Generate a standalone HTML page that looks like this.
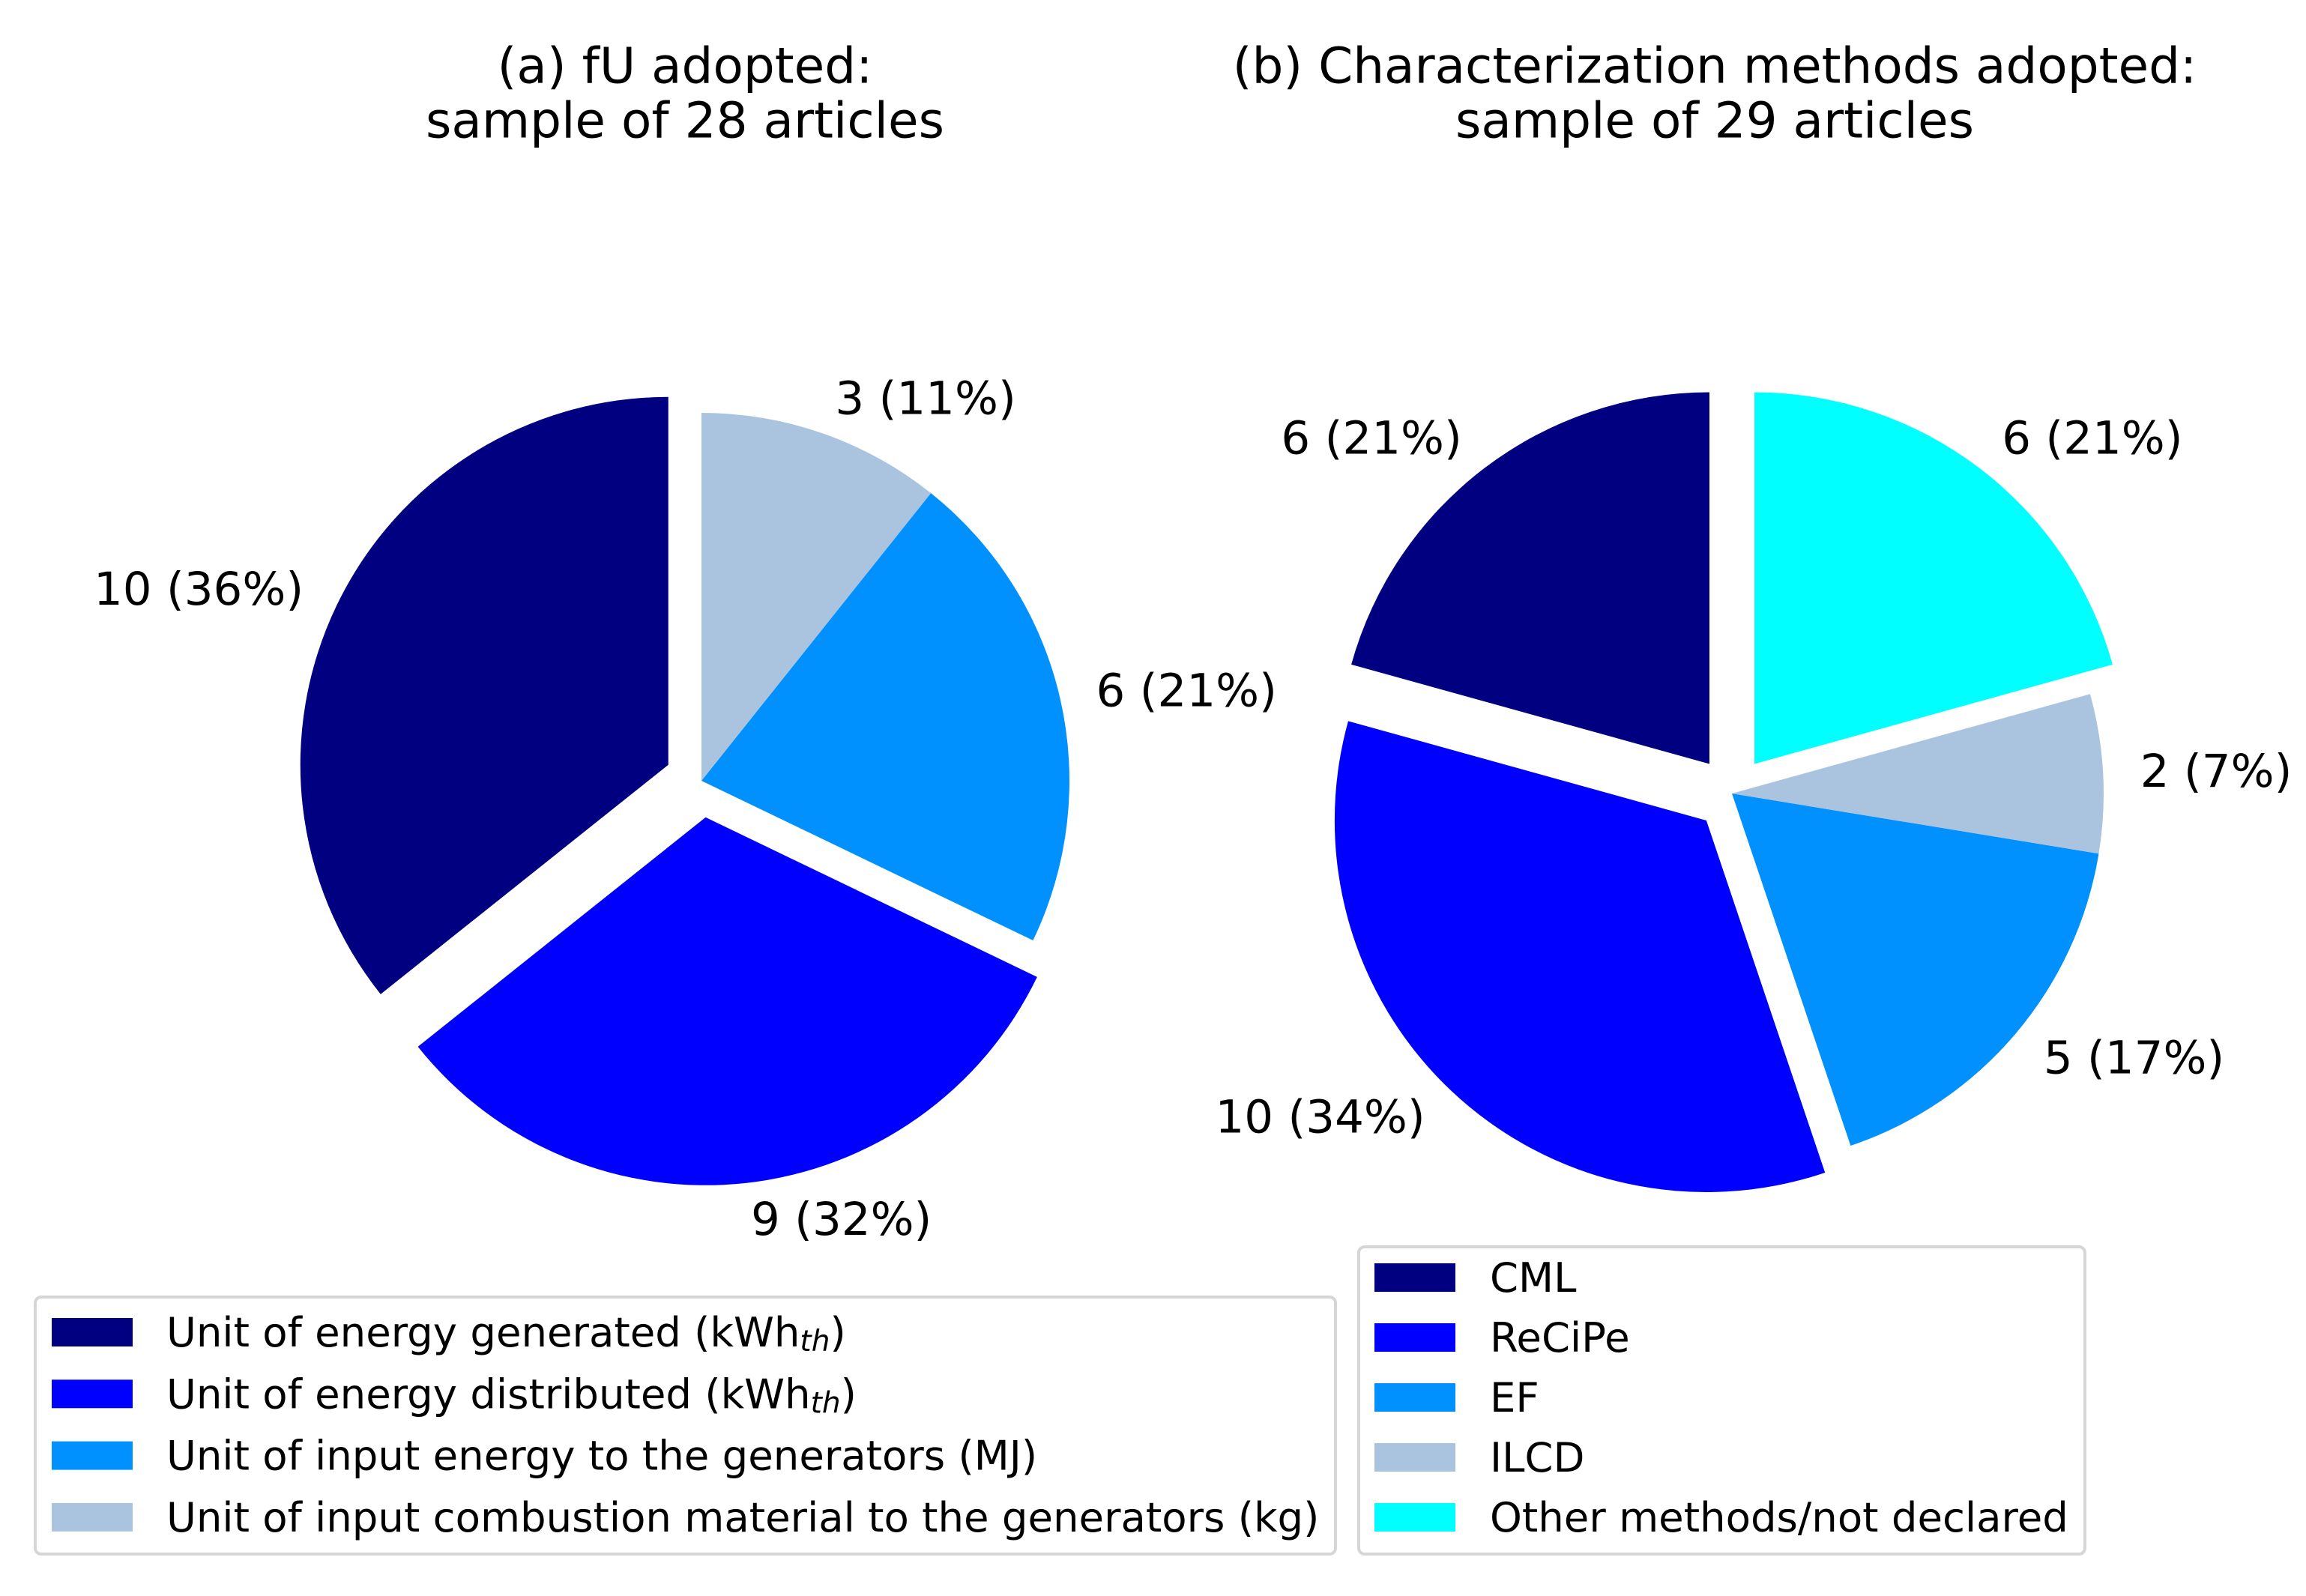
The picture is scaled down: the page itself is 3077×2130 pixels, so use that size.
<!DOCTYPE html>
<html><head><meta charset="utf-8"><style>
html,body{margin:0;padding:0;background:#fff;}
svg{display:block;font-family:"DejaVu Sans","Liberation Sans",sans-serif;}
</style></head><body>
<svg id="chart" width="3077" height="2130" viewBox="0 0 3077 2130" xmlns="http://www.w3.org/2000/svg">
<text x="914" y="88" font-size="66" text-anchor="middle" dominant-baseline="central">(a) fU adopted:</text>
<text x="914" y="161" font-size="66" text-anchor="middle" dominant-baseline="central">sample of 28 articles</text>
<text x="2288" y="88" font-size="66" text-anchor="middle" dominant-baseline="central">(b) Characterization methods adopted:</text>
<text x="2288" y="161" font-size="66" text-anchor="middle" dominant-baseline="central">sample of 29 articles</text>
<g id="pieA"></g>
<g id="pieB"></g>
<g id="legA">
<rect x="47" y="1731" width="1735" height="343" rx="8" fill="#fff" stroke="#d6d6d6" stroke-width="4"/>
</g>
<g id="legB">
<rect x="1813" y="1664" width="969" height="410" rx="8" fill="#fff" stroke="#d6d6d6" stroke-width="4"/>
</g>
</svg>
<script>
const fuLabels = ["Unit of energy generated (kWh_th)", "Unit of energy distributed (kWh_th)", "Unit of input energy to the generators (MJ)", "Unit of input combustion material to the generators (kg)"];
const fuValues = [10, 9, 6, 3];
const fuExplode = [0.1, 0.1, 0, 0];
const cmLabels = ["CML", "ReCiPe", "EF", "ILCD", "Other methods/not declared"];
const cmValues = [6, 10, 5, 2, 6];
const cmExplode = [0.1, 0.1, 0, 0, 0.1];
const colorsA = ["#000080", "#0000ff", "#0091ff", "#aac4df"];
const colorsB = ["#000080", "#0000ff", "#0091ff", "#aac4df", "#00ffff"];
const NS = "http://www.w3.org/2000/svg";

function drawPie(g, values, explode, colors, cx, cy, r, prefix) {
  const total = values.reduce((a, b) => a + b, 0);
  let a0 = 90;
  values.forEach((v, i) => {
    const sweep = v / total * 360;
    const a1 = a0 + sweep;
    const mid = (a0 + a1) / 2 * Math.PI / 180;
    const ox = cx + explode[i] * r * Math.cos(mid);
    const oy = cy - explode[i] * r * Math.sin(mid);
    const s = a0 * Math.PI / 180, e = a1 * Math.PI / 180;
    const x0 = ox + r * Math.cos(s), y0 = oy - r * Math.sin(s);
    const x1 = ox + r * Math.cos(e), y1 = oy - r * Math.sin(e);
    const large = sweep > 180 ? 1 : 0;
    const p = document.createElementNS(NS, "path");
    p.setAttribute("d", `M${ox},${oy} L${x0},${y0} A${r},${r} 0 ${large} 0 ${x1},${y1} Z`);
    p.setAttribute("fill", colors[i]);
    
    
    g.appendChild(p);
    const lx = ox + 1.1 * r * Math.cos(mid), ly = oy - 1.1 * r * Math.sin(mid);
    const t = document.createElementNS(NS, "text");
    t.setAttribute("x", lx); t.setAttribute("y", ly);
    t.setAttribute("font-size", "61");
    t.setAttribute("dominant-baseline", "central");
    t.setAttribute("text-anchor", Math.cos(mid) >= 0 ? "start" : "end");
    t.textContent = v + " (" + Math.round(v / total * 100) + "%)";
    
    
    g.appendChild(t);
    a0 = a1;
  });
}
drawPie(document.getElementById("pieA"), fuValues, fuExplode, colorsA, 936, 1042, 491, "pie-a");
drawPie(document.getElementById("pieB"), cmValues, cmExplode, colorsB, 2311, 1059, 496, "pie-b");

function drawLegend(g, labels, colors, patchX, textX, y0, dy, prefix) {
  labels.forEach((lab, i) => {
    const y = y0 + i * dy;
    const r = document.createElementNS(NS, "rect");
    r.setAttribute("x", patchX); r.setAttribute("y", y - 19);
    r.setAttribute("width", 108); r.setAttribute("height", 38);
    r.setAttribute("fill", colors[i]);
    
    
    g.appendChild(r);
    const t = document.createElementNS(NS, "text");
    t.setAttribute("x", textX); t.setAttribute("y", y);
    t.setAttribute("font-size", "54.5");
    t.setAttribute("dominant-baseline", "central");
    const parts = lab.split("_th");
    if (parts.length > 1) {
      t.appendChild(document.createTextNode(parts[0]));
      const sub = document.createElementNS(NS, "tspan");
      sub.setAttribute("font-size", "39"); sub.setAttribute("font-style", "italic");
      sub.setAttribute("dy", "12");
      sub.textContent = "th";
      t.appendChild(sub);
      const rest = document.createElementNS(NS, "tspan");
      rest.setAttribute("dy", "-12");
      rest.textContent = parts[1];
      t.appendChild(rest);
    } else {
      t.textContent = lab;
    }
    
    
    g.appendChild(t);
  });
}
drawLegend(document.getElementById("legA"), fuLabels, colorsA, 69, 222, 1778, 82.3, "legend-a");
drawLegend(document.getElementById("legB"), cmLabels, colorsB, 1834, 1988, 1705, 80, "legend-b");
</script>
</body></html>
